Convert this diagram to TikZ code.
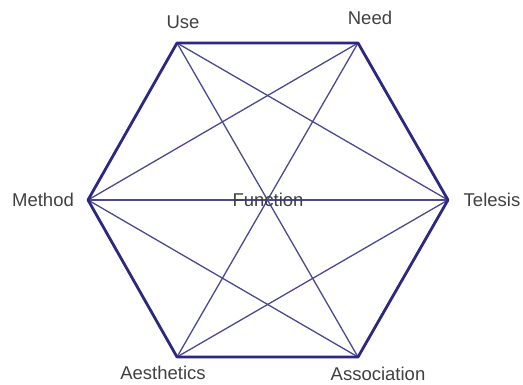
\documentclass[tikz,border=0pt]{standalone}
\usepackage{fontspec}
\setmainfont{Liberation Sans}
\usepackage{tikz}
\usetikzlibrary{positioning, calc}
\definecolor{hexblue}{HTML}{2C2880}
\definecolor{chordblue}{HTML}{4B4893}
\definecolor{labelgray}{HTML}{404040}
\tikzstyle{Edge} = [line width=2.8pt, color=hexblue, line join=round]
\tikzstyle{Chord} = [line width=1.3pt, color=chordblue]
\tikzstyle{Label} = [inner sep=0.1mm, text=labelgray, font=\fontsize{18.5}{20}\selectfont]

\begin{document}
\begin{tikzpicture}[x=1pt, y=1pt]
    \useasboundingbox (0,0) rectangle (523,385);
    \coordinate (use) at (177,342);
    \coordinate (need) at (358,342);
    \coordinate (telesis) at (448,185);
    \coordinate (assoc) at (358,28);
    \coordinate (aesth) at (177,28);
    \coordinate (method) at (88,185);

    \draw [Chord] (use) -- (telesis);
    \draw [Chord] (use) -- (assoc);
    \draw [Chord] (need) -- (method);
    \draw [Chord] (need) -- (aesth);
    \draw [Chord] (method) -- (telesis);
    \draw [Chord] (method) -- (assoc);
    \draw [Chord] (telesis) -- (aesth);

    \draw [Edge] (use) -- (need) -- (telesis) -- (assoc) -- (aesth) -- (method) -- cycle;

    \node [Label](1) at (183,363){Use};
    \node [Label](2) at (370,367){Need};
    \node [Label](3) at (43,185){Method};
    \node [Label](4) at (492,185){Telesis};
    \node [Label](5) at (163,12){Aesthetics};
    \node [Label](6) at (378,11){Association};
    \node [Label](7) at (268,185){Function};
\end{tikzpicture}
\end{document}
